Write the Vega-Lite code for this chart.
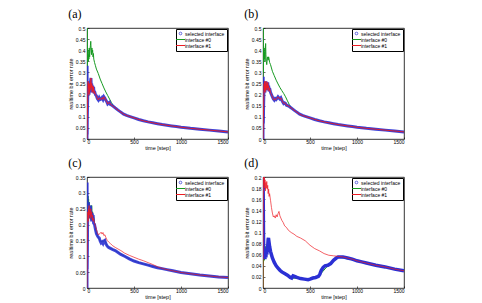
{
  "$schema": "https://vega.github.io/schema/vega-lite/v6.json",
  "padding": {"left": 67, "top": 7, "right": 4, "bottom": 4},
  "columns": 2,
  "bounds": "flush",
  "spacing": {"row": 38, "column": 35},
  "resolve": {"scale": {"color": "independent"}, "legend": {"color": "independent"}},
  "data": {"values": [
    {"p":"a","s":"sel","t":0,"v":0},{"p":"a","s":"sel","t":1,"v":0.33},{"p":"a","s":"sel","t":2,"v":0.02},{"p":"a","s":"sel","t":3,"v":0.09},{"p":"a","s":"sel","t":6,"v":0.16},{"p":"a","s":"sel","t":9,"v":0.21},{"p":"a","s":"sel","t":12,"v":0.26},{"p":"a","s":"sel","t":15,"v":0.23},{"p":"a","s":"sel","t":18,"v":0.25},{"p":"a","s":"sel","t":21,"v":0.2},{"p":"a","s":"sel","t":24,"v":0.24},{"p":"a","s":"sel","t":27,"v":0.21},{"p":"a","s":"sel","t":30,"v":0.25},{"p":"a","s":"sel","t":34,"v":0.22},{"p":"a","s":"sel","t":38,"v":0.26},{"p":"a","s":"sel","t":42,"v":0.275},{"p":"a","s":"sel","t":46,"v":0.23},{"p":"a","s":"sel","t":50,"v":0.25},{"p":"a","s":"sel","t":55,"v":0.21},{"p":"a","s":"sel","t":60,"v":0.24},{"p":"a","s":"sel","t":65,"v":0.215},{"p":"a","s":"sel","t":70,"v":0.235},{"p":"a","s":"sel","t":75,"v":0.205},{"p":"a","s":"sel","t":80,"v":0.215},{"p":"a","s":"sel","t":90,"v":0.2},{"p":"a","s":"sel","t":100,"v":0.195},{"p":"a","s":"sel","t":110,"v":0.182},{"p":"a","s":"sel","t":120,"v":0.176},{"p":"a","s":"sel","t":130,"v":0.186},{"p":"a","s":"sel","t":140,"v":0.178},{"p":"a","s":"sel","t":150,"v":0.18},{"p":"a","s":"sel","t":160,"v":0.186},{"p":"a","s":"sel","t":170,"v":0.178},{"p":"a","s":"sel","t":180,"v":0.19},{"p":"a","s":"sel","t":190,"v":0.184},{"p":"a","s":"sel","t":200,"v":0.175},{"p":"a","s":"sel","t":210,"v":0.168},{"p":"a","s":"sel","t":220,"v":0.158},{"p":"a","s":"sel","t":230,"v":0.162},{"p":"a","s":"sel","t":240,"v":0.165},{"p":"a","s":"sel","t":250,"v":0.155},{"p":"a","s":"sel","t":265,"v":0.152},{"p":"a","s":"sel","t":280,"v":0.147},{"p":"a","s":"sel","t":300,"v":0.14},{"p":"a","s":"sel","t":330,"v":0.13},{"p":"a","s":"sel","t":360,"v":0.121},{"p":"a","s":"sel","t":390,"v":0.112},{"p":"a","s":"sel","t":420,"v":0.106},{"p":"a","s":"sel","t":450,"v":0.102},{"p":"a","s":"sel","t":500,"v":0.095},{"p":"a","s":"sel","t":550,"v":0.088},{"p":"a","s":"sel","t":600,"v":0.082},{"p":"a","s":"sel","t":650,"v":0.077},{"p":"a","s":"sel","t":700,"v":0.073},{"p":"a","s":"sel","t":750,"v":0.069},{"p":"a","s":"sel","t":800,"v":0.065},{"p":"a","s":"sel","t":850,"v":0.062},{"p":"a","s":"sel","t":900,"v":0.059},{"p":"a","s":"sel","t":950,"v":0.056},{"p":"a","s":"sel","t":1000,"v":0.053},{"p":"a","s":"sel","t":1100,"v":0.048},{"p":"a","s":"sel","t":1200,"v":0.044},{"p":"a","s":"sel","t":1300,"v":0.04},{"p":"a","s":"sel","t":1400,"v":0.036},{"p":"a","s":"sel","t":1500,"v":0.032},

    {"p":"a","s":"if1","t":0,"v":0},{"p":"a","s":"if1","t":3,"v":0.09},{"p":"a","s":"if1","t":6,"v":0.16},{"p":"a","s":"if1","t":9,"v":0.21},{"p":"a","s":"if1","t":12,"v":0.26},{"p":"a","s":"if1","t":15,"v":0.23},{"p":"a","s":"if1","t":18,"v":0.25},{"p":"a","s":"if1","t":21,"v":0.2},{"p":"a","s":"if1","t":24,"v":0.24},{"p":"a","s":"if1","t":27,"v":0.21},{"p":"a","s":"if1","t":30,"v":0.25},{"p":"a","s":"if1","t":34,"v":0.22},{"p":"a","s":"if1","t":38,"v":0.26},{"p":"a","s":"if1","t":42,"v":0.275},{"p":"a","s":"if1","t":46,"v":0.23},{"p":"a","s":"if1","t":50,"v":0.25},{"p":"a","s":"if1","t":55,"v":0.21},{"p":"a","s":"if1","t":60,"v":0.24},{"p":"a","s":"if1","t":65,"v":0.215},{"p":"a","s":"if1","t":70,"v":0.235},{"p":"a","s":"if1","t":75,"v":0.205},{"p":"a","s":"if1","t":80,"v":0.215},{"p":"a","s":"if1","t":90,"v":0.2},{"p":"a","s":"if1","t":100,"v":0.195},{"p":"a","s":"if1","t":110,"v":0.182},{"p":"a","s":"if1","t":120,"v":0.176},{"p":"a","s":"if1","t":130,"v":0.186},{"p":"a","s":"if1","t":140,"v":0.178},{"p":"a","s":"if1","t":150,"v":0.18},{"p":"a","s":"if1","t":160,"v":0.186},{"p":"a","s":"if1","t":170,"v":0.178},{"p":"a","s":"if1","t":180,"v":0.19},{"p":"a","s":"if1","t":190,"v":0.184},{"p":"a","s":"if1","t":200,"v":0.175},{"p":"a","s":"if1","t":210,"v":0.168},{"p":"a","s":"if1","t":220,"v":0.158},{"p":"a","s":"if1","t":230,"v":0.162},{"p":"a","s":"if1","t":240,"v":0.165},{"p":"a","s":"if1","t":250,"v":0.155},{"p":"a","s":"if1","t":265,"v":0.152},{"p":"a","s":"if1","t":280,"v":0.147},{"p":"a","s":"if1","t":300,"v":0.14},{"p":"a","s":"if1","t":330,"v":0.13},{"p":"a","s":"if1","t":360,"v":0.121},{"p":"a","s":"if1","t":390,"v":0.112},{"p":"a","s":"if1","t":420,"v":0.106},{"p":"a","s":"if1","t":450,"v":0.102},{"p":"a","s":"if1","t":500,"v":0.095},{"p":"a","s":"if1","t":550,"v":0.088},{"p":"a","s":"if1","t":600,"v":0.082},{"p":"a","s":"if1","t":650,"v":0.077},{"p":"a","s":"if1","t":700,"v":0.073},{"p":"a","s":"if1","t":750,"v":0.069},{"p":"a","s":"if1","t":800,"v":0.065},{"p":"a","s":"if1","t":850,"v":0.062},{"p":"a","s":"if1","t":900,"v":0.059},{"p":"a","s":"if1","t":950,"v":0.056},{"p":"a","s":"if1","t":1000,"v":0.053},{"p":"a","s":"if1","t":1100,"v":0.048},{"p":"a","s":"if1","t":1200,"v":0.044},{"p":"a","s":"if1","t":1300,"v":0.04},{"p":"a","s":"if1","t":1400,"v":0.036},{"p":"a","s":"if1","t":1500,"v":0.032},

    {"p":"a","s":"if0","t":0,"v":0},{"p":"a","s":"if0","t":1,"v":0.5},{"p":"a","s":"if0","t":3,"v":0.33},{"p":"a","s":"if0","t":5,"v":0.42},{"p":"a","s":"if0","t":8,"v":0.36},{"p":"a","s":"if0","t":11,"v":0.4},{"p":"a","s":"if0","t":14,"v":0.35},{"p":"a","s":"if0","t":17,"v":0.38},{"p":"a","s":"if0","t":20,"v":0.36},{"p":"a","s":"if0","t":24,"v":0.41},{"p":"a","s":"if0","t":28,"v":0.37},{"p":"a","s":"if0","t":32,"v":0.4},{"p":"a","s":"if0","t":36,"v":0.42},{"p":"a","s":"if0","t":40,"v":0.44},{"p":"a","s":"if0","t":44,"v":0.4},{"p":"a","s":"if0","t":48,"v":0.38},{"p":"a","s":"if0","t":52,"v":0.41},{"p":"a","s":"if0","t":56,"v":0.39},{"p":"a","s":"if0","t":60,"v":0.4},{"p":"a","s":"if0","t":64,"v":0.37},{"p":"a","s":"if0","t":68,"v":0.385},{"p":"a","s":"if0","t":72,"v":0.36},{"p":"a","s":"if0","t":80,"v":0.345},{"p":"a","s":"if0","t":90,"v":0.33},{"p":"a","s":"if0","t":100,"v":0.315},{"p":"a","s":"if0","t":120,"v":0.295},{"p":"a","s":"if0","t":140,"v":0.27},{"p":"a","s":"if0","t":160,"v":0.25},{"p":"a","s":"if0","t":180,"v":0.23},{"p":"a","s":"if0","t":200,"v":0.212},{"p":"a","s":"if0","t":220,"v":0.196},{"p":"a","s":"if0","t":240,"v":0.18},{"p":"a","s":"if0","t":260,"v":0.164},{"p":"a","s":"if0","t":280,"v":0.15},{"p":"a","s":"if0","t":300,"v":0.14},{"p":"a","s":"if0","t":330,"v":0.13},{"p":"a","s":"if0","t":360,"v":0.121},{"p":"a","s":"if0","t":390,"v":0.112},{"p":"a","s":"if0","t":420,"v":0.106},{"p":"a","s":"if0","t":450,"v":0.102},{"p":"a","s":"if0","t":500,"v":0.095},{"p":"a","s":"if0","t":600,"v":0.082},{"p":"a","s":"if0","t":700,"v":0.073},{"p":"a","s":"if0","t":800,"v":0.065},{"p":"a","s":"if0","t":900,"v":0.059},{"p":"a","s":"if0","t":1000,"v":0.053},{"p":"a","s":"if0","t":1200,"v":0.044},{"p":"a","s":"if0","t":1500,"v":0.032},

    {"p":"b","s":"sel","t":0,"v":0},{"p":"b","s":"sel","t":2,"v":0.28},{"p":"b","s":"sel","t":4,"v":0.07},{"p":"b","s":"sel","t":6,"v":0.14},{"p":"b","s":"sel","t":9,"v":0.2},{"p":"b","s":"sel","t":12,"v":0.25},{"p":"b","s":"sel","t":15,"v":0.22},{"p":"b","s":"sel","t":18,"v":0.26},{"p":"b","s":"sel","t":21,"v":0.21},{"p":"b","s":"sel","t":24,"v":0.24},{"p":"b","s":"sel","t":28,"v":0.22},{"p":"b","s":"sel","t":32,"v":0.26},{"p":"b","s":"sel","t":36,"v":0.23},{"p":"b","s":"sel","t":40,"v":0.25},{"p":"b","s":"sel","t":45,"v":0.22},{"p":"b","s":"sel","t":50,"v":0.255},{"p":"b","s":"sel","t":55,"v":0.23},{"p":"b","s":"sel","t":60,"v":0.24},{"p":"b","s":"sel","t":65,"v":0.215},{"p":"b","s":"sel","t":70,"v":0.23},{"p":"b","s":"sel","t":80,"v":0.21},{"p":"b","s":"sel","t":90,"v":0.2},{"p":"b","s":"sel","t":100,"v":0.19},{"p":"b","s":"sel","t":110,"v":0.18},{"p":"b","s":"sel","t":120,"v":0.175},{"p":"b","s":"sel","t":130,"v":0.182},{"p":"b","s":"sel","t":140,"v":0.178},{"p":"b","s":"sel","t":150,"v":0.183},{"p":"b","s":"sel","t":160,"v":0.19},{"p":"b","s":"sel","t":170,"v":0.185},{"p":"b","s":"sel","t":180,"v":0.18},{"p":"b","s":"sel","t":190,"v":0.185},{"p":"b","s":"sel","t":200,"v":0.175},{"p":"b","s":"sel","t":210,"v":0.167},{"p":"b","s":"sel","t":220,"v":0.16},{"p":"b","s":"sel","t":230,"v":0.163},{"p":"b","s":"sel","t":240,"v":0.16},{"p":"b","s":"sel","t":250,"v":0.152},{"p":"b","s":"sel","t":265,"v":0.15},{"p":"b","s":"sel","t":280,"v":0.146},{"p":"b","s":"sel","t":300,"v":0.14},{"p":"b","s":"sel","t":330,"v":0.13},{"p":"b","s":"sel","t":360,"v":0.121},{"p":"b","s":"sel","t":390,"v":0.112},{"p":"b","s":"sel","t":420,"v":0.106},{"p":"b","s":"sel","t":450,"v":0.102},{"p":"b","s":"sel","t":500,"v":0.095},{"p":"b","s":"sel","t":550,"v":0.088},{"p":"b","s":"sel","t":600,"v":0.082},{"p":"b","s":"sel","t":650,"v":0.077},{"p":"b","s":"sel","t":700,"v":0.073},{"p":"b","s":"sel","t":750,"v":0.069},{"p":"b","s":"sel","t":800,"v":0.065},{"p":"b","s":"sel","t":850,"v":0.062},{"p":"b","s":"sel","t":900,"v":0.059},{"p":"b","s":"sel","t":950,"v":0.056},{"p":"b","s":"sel","t":1000,"v":0.053},{"p":"b","s":"sel","t":1100,"v":0.048},{"p":"b","s":"sel","t":1200,"v":0.044},{"p":"b","s":"sel","t":1300,"v":0.04},{"p":"b","s":"sel","t":1400,"v":0.036},{"p":"b","s":"sel","t":1500,"v":0.032},

    {"p":"b","s":"if1","t":0,"v":0},{"p":"b","s":"if1","t":3,"v":0.08},{"p":"b","s":"if1","t":6,"v":0.14},{"p":"b","s":"if1","t":9,"v":0.2},{"p":"b","s":"if1","t":12,"v":0.25},{"p":"b","s":"if1","t":15,"v":0.22},{"p":"b","s":"if1","t":18,"v":0.26},{"p":"b","s":"if1","t":21,"v":0.21},{"p":"b","s":"if1","t":24,"v":0.24},{"p":"b","s":"if1","t":28,"v":0.22},{"p":"b","s":"if1","t":32,"v":0.26},{"p":"b","s":"if1","t":36,"v":0.23},{"p":"b","s":"if1","t":40,"v":0.25},{"p":"b","s":"if1","t":45,"v":0.22},{"p":"b","s":"if1","t":50,"v":0.255},{"p":"b","s":"if1","t":55,"v":0.23},{"p":"b","s":"if1","t":60,"v":0.24},{"p":"b","s":"if1","t":65,"v":0.215},{"p":"b","s":"if1","t":70,"v":0.23},{"p":"b","s":"if1","t":80,"v":0.21},{"p":"b","s":"if1","t":90,"v":0.2},{"p":"b","s":"if1","t":100,"v":0.19},{"p":"b","s":"if1","t":110,"v":0.18},{"p":"b","s":"if1","t":120,"v":0.175},{"p":"b","s":"if1","t":130,"v":0.182},{"p":"b","s":"if1","t":140,"v":0.178},{"p":"b","s":"if1","t":150,"v":0.183},{"p":"b","s":"if1","t":160,"v":0.19},{"p":"b","s":"if1","t":170,"v":0.185},{"p":"b","s":"if1","t":180,"v":0.18},{"p":"b","s":"if1","t":190,"v":0.185},{"p":"b","s":"if1","t":200,"v":0.175},{"p":"b","s":"if1","t":210,"v":0.167},{"p":"b","s":"if1","t":220,"v":0.16},{"p":"b","s":"if1","t":230,"v":0.163},{"p":"b","s":"if1","t":240,"v":0.16},{"p":"b","s":"if1","t":250,"v":0.152},{"p":"b","s":"if1","t":265,"v":0.15},{"p":"b","s":"if1","t":280,"v":0.146},{"p":"b","s":"if1","t":300,"v":0.14},{"p":"b","s":"if1","t":330,"v":0.13},{"p":"b","s":"if1","t":360,"v":0.121},{"p":"b","s":"if1","t":390,"v":0.112},{"p":"b","s":"if1","t":420,"v":0.106},{"p":"b","s":"if1","t":450,"v":0.102},{"p":"b","s":"if1","t":500,"v":0.095},{"p":"b","s":"if1","t":550,"v":0.088},{"p":"b","s":"if1","t":600,"v":0.082},{"p":"b","s":"if1","t":650,"v":0.077},{"p":"b","s":"if1","t":700,"v":0.073},{"p":"b","s":"if1","t":750,"v":0.069},{"p":"b","s":"if1","t":800,"v":0.065},{"p":"b","s":"if1","t":850,"v":0.062},{"p":"b","s":"if1","t":900,"v":0.059},{"p":"b","s":"if1","t":950,"v":0.056},{"p":"b","s":"if1","t":1000,"v":0.053},{"p":"b","s":"if1","t":1100,"v":0.048},{"p":"b","s":"if1","t":1200,"v":0.044},{"p":"b","s":"if1","t":1300,"v":0.04},{"p":"b","s":"if1","t":1400,"v":0.036},{"p":"b","s":"if1","t":1500,"v":0.032},

    {"p":"b","s":"if0","t":0,"v":0},{"p":"b","s":"if0","t":1,"v":0.5},{"p":"b","s":"if0","t":3,"v":0.3},{"p":"b","s":"if0","t":6,"v":0.42},{"p":"b","s":"if0","t":9,"v":0.38},{"p":"b","s":"if0","t":12,"v":0.41},{"p":"b","s":"if0","t":15,"v":0.36},{"p":"b","s":"if0","t":18,"v":0.39},{"p":"b","s":"if0","t":21,"v":0.35},{"p":"b","s":"if0","t":25,"v":0.4},{"p":"b","s":"if0","t":28,"v":0.43},{"p":"b","s":"if0","t":31,"v":0.38},{"p":"b","s":"if0","t":35,"v":0.35},{"p":"b","s":"if0","t":40,"v":0.335},{"p":"b","s":"if0","t":45,"v":0.36},{"p":"b","s":"if0","t":50,"v":0.37},{"p":"b","s":"if0","t":55,"v":0.355},{"p":"b","s":"if0","t":60,"v":0.37},{"p":"b","s":"if0","t":65,"v":0.36},{"p":"b","s":"if0","t":70,"v":0.345},{"p":"b","s":"if0","t":80,"v":0.335},{"p":"b","s":"if0","t":90,"v":0.32},{"p":"b","s":"if0","t":100,"v":0.305},{"p":"b","s":"if0","t":120,"v":0.285},{"p":"b","s":"if0","t":140,"v":0.265},{"p":"b","s":"if0","t":160,"v":0.248},{"p":"b","s":"if0","t":180,"v":0.232},{"p":"b","s":"if0","t":200,"v":0.218},{"p":"b","s":"if0","t":220,"v":0.205},{"p":"b","s":"if0","t":240,"v":0.19},{"p":"b","s":"if0","t":260,"v":0.172},{"p":"b","s":"if0","t":280,"v":0.155},{"p":"b","s":"if0","t":300,"v":0.14},{"p":"b","s":"if0","t":330,"v":0.13},{"p":"b","s":"if0","t":360,"v":0.121},{"p":"b","s":"if0","t":390,"v":0.112},{"p":"b","s":"if0","t":420,"v":0.106},{"p":"b","s":"if0","t":450,"v":0.102},{"p":"b","s":"if0","t":500,"v":0.095},{"p":"b","s":"if0","t":600,"v":0.082},{"p":"b","s":"if0","t":700,"v":0.073},{"p":"b","s":"if0","t":800,"v":0.065},{"p":"b","s":"if0","t":900,"v":0.059},{"p":"b","s":"if0","t":1000,"v":0.053},{"p":"b","s":"if0","t":1200,"v":0.044},{"p":"b","s":"if0","t":1500,"v":0.032},

    {"p":"c","s":"sel","t":0,"v":0},{"p":"c","s":"sel","t":1,"v":0.333},{"p":"c","s":"sel","t":2,"v":0.06},{"p":"c","s":"sel","t":4,"v":0.12},{"p":"c","s":"sel","t":6,"v":0.2},{"p":"c","s":"sel","t":9,"v":0.25},{"p":"c","s":"sel","t":12,"v":0.22},{"p":"c","s":"sel","t":15,"v":0.27},{"p":"c","s":"sel","t":18,"v":0.24},{"p":"c","s":"sel","t":21,"v":0.26},{"p":"c","s":"sel","t":25,"v":0.22},{"p":"c","s":"sel","t":29,"v":0.25},{"p":"c","s":"sel","t":33,"v":0.23},{"p":"c","s":"sel","t":37,"v":0.26},{"p":"c","s":"sel","t":41,"v":0.22},{"p":"c","s":"sel","t":45,"v":0.24},{"p":"c","s":"sel","t":50,"v":0.21},{"p":"c","s":"sel","t":55,"v":0.235},{"p":"c","s":"sel","t":60,"v":0.22},{"p":"c","s":"sel","t":65,"v":0.23},{"p":"c","s":"sel","t":70,"v":0.205},{"p":"c","s":"sel","t":80,"v":0.2},{"p":"c","s":"sel","t":90,"v":0.185},{"p":"c","s":"sel","t":100,"v":0.172},{"p":"c","s":"sel","t":110,"v":0.165},{"p":"c","s":"sel","t":120,"v":0.16},{"p":"c","s":"sel","t":130,"v":0.158},{"p":"c","s":"sel","t":140,"v":0.148},{"p":"c","s":"sel","t":150,"v":0.142},{"p":"c","s":"sel","t":160,"v":0.145},{"p":"c","s":"sel","t":170,"v":0.14},{"p":"c","s":"sel","t":180,"v":0.148},{"p":"c","s":"sel","t":190,"v":0.15},{"p":"c","s":"sel","t":200,"v":0.14},{"p":"c","s":"sel","t":215,"v":0.132},{"p":"c","s":"sel","t":230,"v":0.128},{"p":"c","s":"sel","t":250,"v":0.125},{"p":"c","s":"sel","t":270,"v":0.122},{"p":"c","s":"sel","t":300,"v":0.118},{"p":"c","s":"sel","t":330,"v":0.112},{"p":"c","s":"sel","t":360,"v":0.106},{"p":"c","s":"sel","t":400,"v":0.1},{"p":"c","s":"sel","t":450,"v":0.092},{"p":"c","s":"sel","t":500,"v":0.085},{"p":"c","s":"sel","t":550,"v":0.08},{"p":"c","s":"sel","t":600,"v":0.076},{"p":"c","s":"sel","t":650,"v":0.072},{"p":"c","s":"sel","t":700,"v":0.068},{"p":"c","s":"sel","t":750,"v":0.064},{"p":"c","s":"sel","t":800,"v":0.061},{"p":"c","s":"sel","t":850,"v":0.058},{"p":"c","s":"sel","t":900,"v":0.055},{"p":"c","s":"sel","t":1000,"v":0.049},{"p":"c","s":"sel","t":1100,"v":0.045},{"p":"c","s":"sel","t":1200,"v":0.041},{"p":"c","s":"sel","t":1300,"v":0.038},{"p":"c","s":"sel","t":1400,"v":0.035},{"p":"c","s":"sel","t":1500,"v":0.033},

    {"p":"c","s":"if0","t":0,"v":0},{"p":"c","s":"if0","t":1,"v":0.3},{"p":"c","s":"if0","t":3,"v":0.2},{"p":"c","s":"if0","t":5,"v":0.27},{"p":"c","s":"if0","t":8,"v":0.22},{"p":"c","s":"if0","t":11,"v":0.29},{"p":"c","s":"if0","t":14,"v":0.25},{"p":"c","s":"if0","t":17,"v":0.28},{"p":"c","s":"if0","t":20,"v":0.24},{"p":"c","s":"if0","t":24,"v":0.27},{"p":"c","s":"if0","t":28,"v":0.22},{"p":"c","s":"if0","t":32,"v":0.26},{"p":"c","s":"if0","t":36,"v":0.23},{"p":"c","s":"if0","t":40,"v":0.25},{"p":"c","s":"if0","t":45,"v":0.215},{"p":"c","s":"if0","t":50,"v":0.26},{"p":"c","s":"if0","t":55,"v":0.22},{"p":"c","s":"if0","t":60,"v":0.24},{"p":"c","s":"if0","t":65,"v":0.215},{"p":"c","s":"if0","t":70,"v":0.225},{"p":"c","s":"if0","t":80,"v":0.205},{"p":"c","s":"if0","t":90,"v":0.19},{"p":"c","s":"if0","t":100,"v":0.172},{"p":"c","s":"if0","t":120,"v":0.16},{"p":"c","s":"if0","t":140,"v":0.148},{"p":"c","s":"if0","t":160,"v":0.145},{"p":"c","s":"if0","t":190,"v":0.15},{"p":"c","s":"if0","t":215,"v":0.132},{"p":"c","s":"if0","t":250,"v":0.125},{"p":"c","s":"if0","t":300,"v":0.118},{"p":"c","s":"if0","t":400,"v":0.1},{"p":"c","s":"if0","t":500,"v":0.085},{"p":"c","s":"if0","t":600,"v":0.076},{"p":"c","s":"if0","t":700,"v":0.068},{"p":"c","s":"if0","t":800,"v":0.061},{"p":"c","s":"if0","t":900,"v":0.055},{"p":"c","s":"if0","t":1000,"v":0.049},{"p":"c","s":"if0","t":1200,"v":0.041},{"p":"c","s":"if0","t":1500,"v":0.033},

    {"p":"c","s":"if1","t":0,"v":0},{"p":"c","s":"if1","t":3,"v":0.1},{"p":"c","s":"if1","t":6,"v":0.18},{"p":"c","s":"if1","t":9,"v":0.24},{"p":"c","s":"if1","t":12,"v":0.21},{"p":"c","s":"if1","t":15,"v":0.25},{"p":"c","s":"if1","t":18,"v":0.22},{"p":"c","s":"if1","t":22,"v":0.26},{"p":"c","s":"if1","t":26,"v":0.23},{"p":"c","s":"if1","t":30,"v":0.245},{"p":"c","s":"if1","t":35,"v":0.22},{"p":"c","s":"if1","t":40,"v":0.25},{"p":"c","s":"if1","t":45,"v":0.225},{"p":"c","s":"if1","t":50,"v":0.24},{"p":"c","s":"if1","t":55,"v":0.215},{"p":"c","s":"if1","t":60,"v":0.23},{"p":"c","s":"if1","t":65,"v":0.21},{"p":"c","s":"if1","t":70,"v":0.22},{"p":"c","s":"if1","t":80,"v":0.205},{"p":"c","s":"if1","t":90,"v":0.195},{"p":"c","s":"if1","t":100,"v":0.185},{"p":"c","s":"if1","t":110,"v":0.175},{"p":"c","s":"if1","t":120,"v":0.168},{"p":"c","s":"if1","t":130,"v":0.17},{"p":"c","s":"if1","t":140,"v":0.172},{"p":"c","s":"if1","t":150,"v":0.176},{"p":"c","s":"if1","t":160,"v":0.17},{"p":"c","s":"if1","t":170,"v":0.175},{"p":"c","s":"if1","t":180,"v":0.165},{"p":"c","s":"if1","t":190,"v":0.168},{"p":"c","s":"if1","t":200,"v":0.16},{"p":"c","s":"if1","t":215,"v":0.15},{"p":"c","s":"if1","t":230,"v":0.145},{"p":"c","s":"if1","t":250,"v":0.14},{"p":"c","s":"if1","t":270,"v":0.134},{"p":"c","s":"if1","t":300,"v":0.128},{"p":"c","s":"if1","t":330,"v":0.123},{"p":"c","s":"if1","t":360,"v":0.118},{"p":"c","s":"if1","t":400,"v":0.11},{"p":"c","s":"if1","t":450,"v":0.103},{"p":"c","s":"if1","t":500,"v":0.097},{"p":"c","s":"if1","t":550,"v":0.091},{"p":"c","s":"if1","t":600,"v":0.086},{"p":"c","s":"if1","t":650,"v":0.08},{"p":"c","s":"if1","t":700,"v":0.074},{"p":"c","s":"if1","t":750,"v":0.067},{"p":"c","s":"if1","t":800,"v":0.062},{"p":"c","s":"if1","t":850,"v":0.058},{"p":"c","s":"if1","t":900,"v":0.055},{"p":"c","s":"if1","t":1000,"v":0.049},{"p":"c","s":"if1","t":1100,"v":0.045},{"p":"c","s":"if1","t":1200,"v":0.041},{"p":"c","s":"if1","t":1300,"v":0.038},{"p":"c","s":"if1","t":1400,"v":0.035},{"p":"c","s":"if1","t":1500,"v":0.033},

    {"p":"d","s":"if0","t":0,"v":0},{"p":"d","s":"if0","t":2,"v":0.06},{"p":"d","s":"if0","t":5,"v":0.045},{"p":"d","s":"if0","t":10,"v":0.065},{"p":"d","s":"if0","t":15,"v":0.05},{"p":"d","s":"if0","t":20,"v":0.07},{"p":"d","s":"if0","t":25,"v":0.055},{"p":"d","s":"if0","t":30,"v":0.075},{"p":"d","s":"if0","t":35,"v":0.06},{"p":"d","s":"if0","t":40,"v":0.07},{"p":"d","s":"if0","t":45,"v":0.065},{"p":"d","s":"if0","t":50,"v":0.075},{"p":"d","s":"if0","t":55,"v":0.088},{"p":"d","s":"if0","t":58,"v":0.09},{"p":"d","s":"if0","t":70,"v":0.075},{"p":"d","s":"if0","t":100,"v":0.054},{"p":"d","s":"if0","t":140,"v":0.04},{"p":"d","s":"if0","t":200,"v":0.029},{"p":"d","s":"if0","t":300,"v":0.018},{"p":"d","s":"if0","t":400,"v":0.017},{"p":"d","s":"if0","t":500,"v":0.016},{"p":"d","s":"if0","t":600,"v":0.023},{"p":"d","s":"if0","t":700,"v":0.042},{"p":"d","s":"if0","t":800,"v":0.056},{"p":"d","s":"if0","t":1000,"v":0.049},{"p":"d","s":"if0","t":1500,"v":0.031},

    {"p":"d","s":"sel","t":0,"v":0.2},{"p":"d","s":"sel","t":2,"v":0.17},{"p":"d","s":"sel","t":4,"v":0.12},{"p":"d","s":"sel","t":6,"v":0.08},{"p":"d","s":"sel","t":8,"v":0.06},{"p":"d","s":"sel","t":12,"v":0.055},{"p":"d","s":"sel","t":16,"v":0.06},{"p":"d","s":"sel","t":20,"v":0.052},{"p":"d","s":"sel","t":25,"v":0.06},{"p":"d","s":"sel","t":30,"v":0.055},{"p":"d","s":"sel","t":35,"v":0.065},{"p":"d","s":"sel","t":40,"v":0.06},{"p":"d","s":"sel","t":45,"v":0.07},{"p":"d","s":"sel","t":50,"v":0.075},{"p":"d","s":"sel","t":55,"v":0.088},{"p":"d","s":"sel","t":58,"v":0.09},{"p":"d","s":"sel","t":62,"v":0.085},{"p":"d","s":"sel","t":70,"v":0.075},{"p":"d","s":"sel","t":80,"v":0.066},{"p":"d","s":"sel","t":90,"v":0.06},{"p":"d","s":"sel","t":100,"v":0.054},{"p":"d","s":"sel","t":120,"v":0.046},{"p":"d","s":"sel","t":140,"v":0.04},{"p":"d","s":"sel","t":160,"v":0.036},{"p":"d","s":"sel","t":180,"v":0.032},{"p":"d","s":"sel","t":200,"v":0.029},{"p":"d","s":"sel","t":230,"v":0.026},{"p":"d","s":"sel","t":260,"v":0.023},{"p":"d","s":"sel","t":290,"v":0.019},{"p":"d","s":"sel","t":305,"v":0.018},{"p":"d","s":"sel","t":320,"v":0.022},{"p":"d","s":"sel","t":335,"v":0.021},{"p":"d","s":"sel","t":360,"v":0.019},{"p":"d","s":"sel","t":400,"v":0.017},{"p":"d","s":"sel","t":440,"v":0.016},{"p":"d","s":"sel","t":480,"v":0.015},{"p":"d","s":"sel","t":500,"v":0.016},{"p":"d","s":"sel","t":530,"v":0.018},{"p":"d","s":"sel","t":560,"v":0.019},{"p":"d","s":"sel","t":590,"v":0.021},{"p":"d","s":"sel","t":605,"v":0.025},{"p":"d","s":"sel","t":620,"v":0.032},{"p":"d","s":"sel","t":640,"v":0.037},{"p":"d","s":"sel","t":660,"v":0.04},{"p":"d","s":"sel","t":690,"v":0.041},{"p":"d","s":"sel","t":720,"v":0.044},{"p":"d","s":"sel","t":750,"v":0.05},{"p":"d","s":"sel","t":780,"v":0.054},{"p":"d","s":"sel","t":800,"v":0.056},{"p":"d","s":"sel","t":850,"v":0.056},{"p":"d","s":"sel","t":900,"v":0.054},{"p":"d","s":"sel","t":950,"v":0.052},{"p":"d","s":"sel","t":1000,"v":0.049},{"p":"d","s":"sel","t":1050,"v":0.047},{"p":"d","s":"sel","t":1100,"v":0.045},{"p":"d","s":"sel","t":1200,"v":0.041},{"p":"d","s":"sel","t":1300,"v":0.038},{"p":"d","s":"sel","t":1400,"v":0.034},{"p":"d","s":"sel","t":1500,"v":0.031},

    {"p":"d","s":"if1","t":0,"v":0},{"p":"d","s":"if1","t":3,"v":0.12},{"p":"d","s":"if1","t":6,"v":0.2},{"p":"d","s":"if1","t":10,"v":0.185},{"p":"d","s":"if1","t":14,"v":0.2},{"p":"d","s":"if1","t":18,"v":0.18},{"p":"d","s":"if1","t":22,"v":0.195},{"p":"d","s":"if1","t":26,"v":0.175},{"p":"d","s":"if1","t":30,"v":0.19},{"p":"d","s":"if1","t":35,"v":0.18},{"p":"d","s":"if1","t":40,"v":0.192},{"p":"d","s":"if1","t":45,"v":0.178},{"p":"d","s":"if1","t":50,"v":0.185},{"p":"d","s":"if1","t":55,"v":0.17},{"p":"d","s":"if1","t":60,"v":0.178},{"p":"d","s":"if1","t":65,"v":0.165},{"p":"d","s":"if1","t":70,"v":0.17},{"p":"d","s":"if1","t":80,"v":0.158},{"p":"d","s":"if1","t":90,"v":0.145},{"p":"d","s":"if1","t":100,"v":0.135},{"p":"d","s":"if1","t":110,"v":0.128},{"p":"d","s":"if1","t":120,"v":0.13},{"p":"d","s":"if1","t":130,"v":0.126},{"p":"d","s":"if1","t":140,"v":0.132},{"p":"d","s":"if1","t":150,"v":0.128},{"p":"d","s":"if1","t":160,"v":0.134},{"p":"d","s":"if1","t":170,"v":0.138},{"p":"d","s":"if1","t":180,"v":0.13},{"p":"d","s":"if1","t":190,"v":0.126},{"p":"d","s":"if1","t":200,"v":0.122},{"p":"d","s":"if1","t":215,"v":0.118},{"p":"d","s":"if1","t":230,"v":0.112},{"p":"d","s":"if1","t":250,"v":0.109},{"p":"d","s":"if1","t":270,"v":0.104},{"p":"d","s":"if1","t":300,"v":0.1},{"p":"d","s":"if1","t":330,"v":0.097},{"p":"d","s":"if1","t":360,"v":0.093},{"p":"d","s":"if1","t":400,"v":0.09},{"p":"d","s":"if1","t":450,"v":0.085},{"p":"d","s":"if1","t":500,"v":0.077},{"p":"d","s":"if1","t":550,"v":0.071},{"p":"d","s":"if1","t":600,"v":0.067},{"p":"d","s":"if1","t":650,"v":0.062},{"p":"d","s":"if1","t":700,"v":0.059},{"p":"d","s":"if1","t":750,"v":0.058},{"p":"d","s":"if1","t":800,"v":0.057},{"p":"d","s":"if1","t":850,"v":0.056},{"p":"d","s":"if1","t":900,"v":0.054},{"p":"d","s":"if1","t":950,"v":0.052},{"p":"d","s":"if1","t":1000,"v":0.049},{"p":"d","s":"if1","t":1050,"v":0.047},{"p":"d","s":"if1","t":1100,"v":0.045},{"p":"d","s":"if1","t":1200,"v":0.041},{"p":"d","s":"if1","t":1300,"v":0.038},{"p":"d","s":"if1","t":1400,"v":0.034},{"p":"d","s":"if1","t":1500,"v":0.031}
  ]},
  "concat": [
    {
      "title": "(a)",
      "width": 141, "height": 111,
      "transform": [{"filter": "datum.p === 'a'"}],
      "encoding": {
        "x": {"field": "t", "type": "quantitative", "scale": {"domain": [0, 1500], "nice": false}, "axis": {"values": [0, 500, 1000, 1500], "format": "d", "title": "time [step]"}},
        "y": {"field": "v", "type": "quantitative", "scale": {"domain": [0, 0.5], "nice": false}, "axis": {"values": [0, 0.05, 0.1, 0.15, 0.2, 0.25, 0.3, 0.35, 0.4, 0.45, 0.5], "format": "~g", "title": "realtime bit error rate"}},
        "color": {"field": "s", "type": "nominal", "scale": {"domain": ["sel", "if0", "if1"], "range": ["#2b30d4", "#179a22", "#ee1c24"]},
          "legend": {"orient": "top-right", "offset": 1, "title": null, "labelExpr": "datum.value === 'sel' ? 'selected interface' : datum.value === 'if0' ? 'interface #0' : 'interface #1'",
            "encoding": {"symbols": {"shape": {"value": {"expr": "datum.value === 'sel' ? 'circle' : 'stroke'"}}, "size": {"value": {"expr": "datum.value === 'sel' ? 7 : 81"}}, "strokeWidth": {"value": {"expr": "datum.value === 'sel' ? 0.7 : 1"}}}}}}
      },
      "layer": [
        {"transform": [{"filter": "datum.s === 'if0'"}], "mark": {"type": "line", "strokeWidth": 1, "clip": true}},
        {"transform": [{"filter": "datum.s === 'sel'"}], "mark": {"type": "line", "strokeWidth": 3, "opacity": 0.9, "clip": true}},
        {"transform": [{"filter": "datum.s === 'if1'"}], "mark": {"type": "line", "strokeWidth": 0.9, "clip": true}}
      ]
    },
    {
      "title": "(b)",
      "width": 141, "height": 111,
      "transform": [{"filter": "datum.p === 'b'"}],
      "encoding": {
        "x": {"field": "t", "type": "quantitative", "scale": {"domain": [0, 1500], "nice": false}, "axis": {"values": [0, 500, 1000, 1500], "format": "d", "title": "time [step]"}},
        "y": {"field": "v", "type": "quantitative", "scale": {"domain": [0, 0.5], "nice": false}, "axis": {"values": [0, 0.05, 0.1, 0.15, 0.2, 0.25, 0.3, 0.35, 0.4, 0.45, 0.5], "format": "~g", "title": "realtime bit error rate"}},
        "color": {"field": "s", "type": "nominal", "scale": {"domain": ["sel", "if0", "if1"], "range": ["#2b30d4", "#179a22", "#ee1c24"]},
          "legend": {"orient": "top-right", "offset": 1, "title": null, "labelExpr": "datum.value === 'sel' ? 'selected interface' : datum.value === 'if0' ? 'interface #0' : 'interface #1'",
            "encoding": {"symbols": {"shape": {"value": {"expr": "datum.value === 'sel' ? 'circle' : 'stroke'"}}, "size": {"value": {"expr": "datum.value === 'sel' ? 7 : 81"}}, "strokeWidth": {"value": {"expr": "datum.value === 'sel' ? 0.7 : 1"}}}}}}
      },
      "layer": [
        {"transform": [{"filter": "datum.s === 'if0'"}], "mark": {"type": "line", "strokeWidth": 1, "clip": true}},
        {"transform": [{"filter": "datum.s === 'sel'"}], "mark": {"type": "line", "strokeWidth": 3, "opacity": 0.9, "clip": true}},
        {"transform": [{"filter": "datum.s === 'if1'"}], "mark": {"type": "line", "strokeWidth": 0.9, "clip": true}}
      ]
    },
    {
      "title": "(c)",
      "width": 141, "height": 111,
      "transform": [{"filter": "datum.p === 'c'"}],
      "encoding": {
        "x": {"field": "t", "type": "quantitative", "scale": {"domain": [0, 1500], "nice": false}, "axis": {"values": [0, 500, 1000, 1500], "format": "d", "title": "time [step]"}},
        "y": {"field": "v", "type": "quantitative", "scale": {"domain": [0, 0.35], "nice": false}, "axis": {"values": [0, 0.05, 0.1, 0.15, 0.2, 0.25, 0.3, 0.35], "format": "~g", "title": "realtime bit error rate"}},
        "color": {"field": "s", "type": "nominal", "scale": {"domain": ["sel", "if0", "if1"], "range": ["#2b30d4", "#179a22", "#ee1c24"]},
          "legend": {"orient": "top-right", "offset": 1, "title": null, "labelExpr": "datum.value === 'sel' ? 'selected interface' : datum.value === 'if0' ? 'interface #0' : 'interface #1'",
            "encoding": {"symbols": {"shape": {"value": {"expr": "datum.value === 'sel' ? 'circle' : 'stroke'"}}, "size": {"value": {"expr": "datum.value === 'sel' ? 7 : 81"}}, "strokeWidth": {"value": {"expr": "datum.value === 'sel' ? 0.7 : 1"}}}}}}
      },
      "layer": [
        {"transform": [{"filter": "datum.s === 'if0'"}], "mark": {"type": "line", "strokeWidth": 1, "clip": true}},
        {"transform": [{"filter": "datum.s === 'sel'"}], "mark": {"type": "line", "strokeWidth": 3, "opacity": 0.9, "clip": true}},
        {"transform": [{"filter": "datum.s === 'if1'"}], "mark": {"type": "line", "strokeWidth": 0.7, "clip": true}}
      ]
    },
    {
      "title": "(d)",
      "width": 141, "height": 111,
      "transform": [{"filter": "datum.p === 'd'"}],
      "encoding": {
        "x": {"field": "t", "type": "quantitative", "scale": {"domain": [0, 1500], "nice": false}, "axis": {"values": [0, 500, 1000, 1500], "format": "d", "title": "time [step]"}},
        "y": {"field": "v", "type": "quantitative", "scale": {"domain": [0, 0.2], "nice": false}, "axis": {"values": [0, 0.02, 0.04, 0.06, 0.08, 0.1, 0.12, 0.14, 0.16, 0.18, 0.2], "format": "~g", "title": "realtime bit error rate"}},
        "color": {"field": "s", "type": "nominal", "scale": {"domain": ["sel", "if0", "if1"], "range": ["#2b30d4", "#179a22", "#ee1c24"]},
          "legend": {"orient": "top-right", "offset": 1, "title": null, "labelExpr": "datum.value === 'sel' ? 'selected interface' : datum.value === 'if0' ? 'interface #0' : 'interface #1'",
            "encoding": {"symbols": {"shape": {"value": {"expr": "datum.value === 'sel' ? 'circle' : 'stroke'"}}, "size": {"value": {"expr": "datum.value === 'sel' ? 7 : 81"}}, "strokeWidth": {"value": {"expr": "datum.value === 'sel' ? 0.7 : 1"}}}}}}
      },
      "layer": [
        {"transform": [{"filter": "datum.s === 'if0'"}], "mark": {"type": "line", "strokeWidth": 1, "clip": true}},
        {"transform": [{"filter": "datum.s === 'sel'"}], "mark": {"type": "line", "strokeWidth": 3.5, "clip": true}},
        {"transform": [{"filter": "datum.s === 'if1'"}], "mark": {"type": "line", "strokeWidth": 0.7, "clip": true}}
      ]
    }
  ],
  "config": {
    "font": "Liberation Sans",
    "view": {"stroke": "#000", "strokeWidth": 0.8},
    "title": {"font": "Liberation Serif", "fontSize": 12, "fontWeight": "normal", "anchor": "start", "frame": "bounds", "offset": 5, "color": "#000"},
    "axis": {"grid": false, "domain": false, "labelFontSize": 5, "titleFontSize": 5.5, "titleFontWeight": "normal", "labelColor": "#000", "titleColor": "#000", "tickColor": "#000", "tickSize": -2, "tickWidth": 0.6, "labelFont": "Liberation Sans", "titleFont": "Liberation Sans"},
    "axisX": {"labelPadding": 2, "titlePadding": 1.5},
    "axisY": {"labelPadding": 4, "titlePadding": 2},
    "legend": {
      "strokeColor": "#000", "fillColor": "#fff", "padding": 2,
      "labelFontSize": 5, "labelFont": "Liberation Sans", "labelColor": "#000", "labelOffset": 2,
      "symbolSize": 81, "symbolType": "stroke", "symbolStrokeWidth": 1, "rowPadding": -2
    }
  }
}
